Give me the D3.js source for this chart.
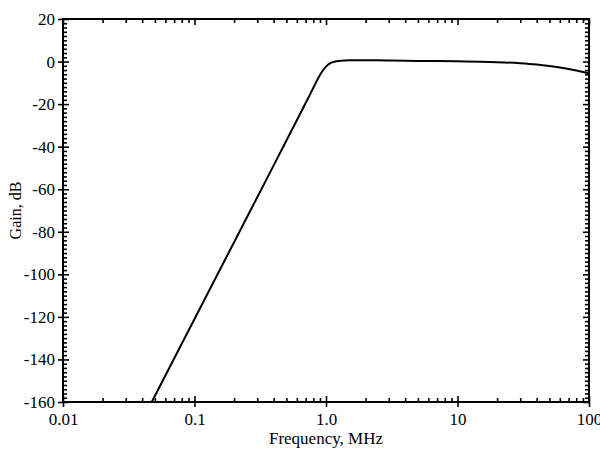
<!DOCTYPE html>
<html>
<head>
<meta charset="utf-8">
<script src="https://cdn.jsdelivr.net/npm/d3@7"></script>
<style>
  body { margin: 0; background: #fff; }
  svg text { font-family: "Liberation Serif", "Times New Roman", serif; fill: #000; }
</style>
</head>
<body>
<svg id="chart" width="600" height="449"></svg>
<script>
// values
const freqMHz = [0.0473, 0.1, 0.2, 0.3, 0.4, 0.5, 0.6, 0.7, 0.75, 0.8, 0.85, 0.9, 0.95, 1.0, 1.05, 1.1, 1.2, 1.3, 1.5, 2, 3, 5, 10, 15, 20, 30, 40, 50, 60, 70, 80, 90, 100];
const gainDb = [-160, -121, -84.9, -63.8, -48.8, -37.1, -27.6, -19.5, -15.9, -12.4, -9.1, -6.3, -4.1, -2.4, -1.2, -0.5, 0.1, 0.4, 0.6, 0.6, 0.5, 0.3, 0.1, -0.1, -0.3, -0.8, -1.4, -2.1, -2.8, -3.5, -4.2, -4.9, -5.6];

const xTicks = [0.01, 0.1, 1, 10, 100];
const xTickLabels = ['0.01', '0.1', '1.0', '10', '100'];
const yTicks = [20, 0, -20, -40, -60, -80, -100, -120, -140, -160];

const margin = { top: 19, right: 11, bottom: 47, left: 63 };
const width = 600 - margin.left - margin.right;
const height = 449 - margin.top - margin.bottom;

const svg = d3.select('#chart')
  .append('g')
  .attr('transform', 'translate(' + margin.left + ',' + margin.top + ')');

const x = d3.scaleLog().domain([0.01, 100]).range([0, width]);
const y = d3.scaleLinear().domain([-160, 20]).range([height, 0]);

// minor tick positions
const xMinor = [];
[0.01, 0.1, 1, 10].forEach(d => { for (let k = 2; k <= 9; k++) xMinor.push(d * k); });
const yMinor = d3.range(-160, 21, 2).filter(v => v % 20 !== 0);

function styleAxis(g) {
  g.select('.domain').remove();
  g.selectAll('line').attr('stroke', '#000').attr('stroke-width', 1.6);
}

// bottom
svg.append('g').attr('transform', 'translate(0,' + height + ')')
  .call(d3.axisBottom(x).tickValues(xTicks).tickSize(5).tickPadding(6)
    .tickFormat((d, i) => xTickLabels[i]))
  .call(styleAxis)
  .selectAll('text').style('font-size', '17px');
svg.append('g').attr('transform', 'translate(0,' + height + ')')
  .call(d3.axisBottom(x).tickValues(xTicks).tickSize(-6).tickFormat(''))
  .call(styleAxis);
svg.append('g').attr('transform', 'translate(0,' + height + ')')
  .call(d3.axisBottom(x).tickValues(xMinor).tickSize(-4).tickFormat(''))
  .call(styleAxis);

// top
svg.append('g')
  .call(d3.axisTop(x).tickValues(xTicks).tickSize(-6).tickFormat(''))
  .call(styleAxis);
svg.append('g')
  .call(d3.axisTop(x).tickValues(xMinor).tickSize(-4).tickFormat(''))
  .call(styleAxis);

// left
svg.append('g')
  .call(d3.axisLeft(y).tickValues(yTicks).tickSize(5).tickPadding(3)
    .tickFormat(d => String(d)))
  .call(styleAxis)
  .selectAll('text').style('font-size', '17px');
svg.append('g')
  .call(d3.axisLeft(y).tickValues(yTicks).tickSize(-6).tickFormat(''))
  .call(styleAxis);
svg.append('g')
  .call(d3.axisLeft(y).tickValues(yMinor).tickSize(-4).tickFormat(''))
  .call(styleAxis);

// right
svg.append('g').attr('transform', 'translate(' + width + ',0)')
  .call(d3.axisRight(y).tickValues(yTicks).tickSize(-6).tickFormat(''))
  .call(styleAxis);
svg.append('g').attr('transform', 'translate(' + width + ',0)')
  .call(d3.axisRight(y).tickValues(yMinor).tickSize(-4).tickFormat(''))
  .call(styleAxis);

// frame
svg.append('rect')
  .attr('width', width).attr('height', height)
  .attr('fill', 'none').attr('stroke', '#000').attr('stroke-width', 2);

// curve
const line = d3.line()
  .x((d, i) => x(freqMHz[i]))
  .y(d => y(d))
  .curve(d3.curveMonotoneX);

svg.append('path')
  .datum(gainDb)
  .attr('fill', 'none')
  .attr('stroke', '#000')
  .attr('stroke-width', 2)
  .attr('d', line);

// axis titles
svg.append('text')
  .attr('x', width / 2).attr('y', height + 42)
  .attr('text-anchor', 'middle').style('font-size', '17px')
  .text('Frequency, MHz');

svg.append('text')
  .attr('transform', 'rotate(-90)')
  .attr('x', -height / 2).attr('y', -42)
  .attr('text-anchor', 'middle').style('font-size', '16px')
  .text('Gain, dB');
</script>
</body>
</html>
